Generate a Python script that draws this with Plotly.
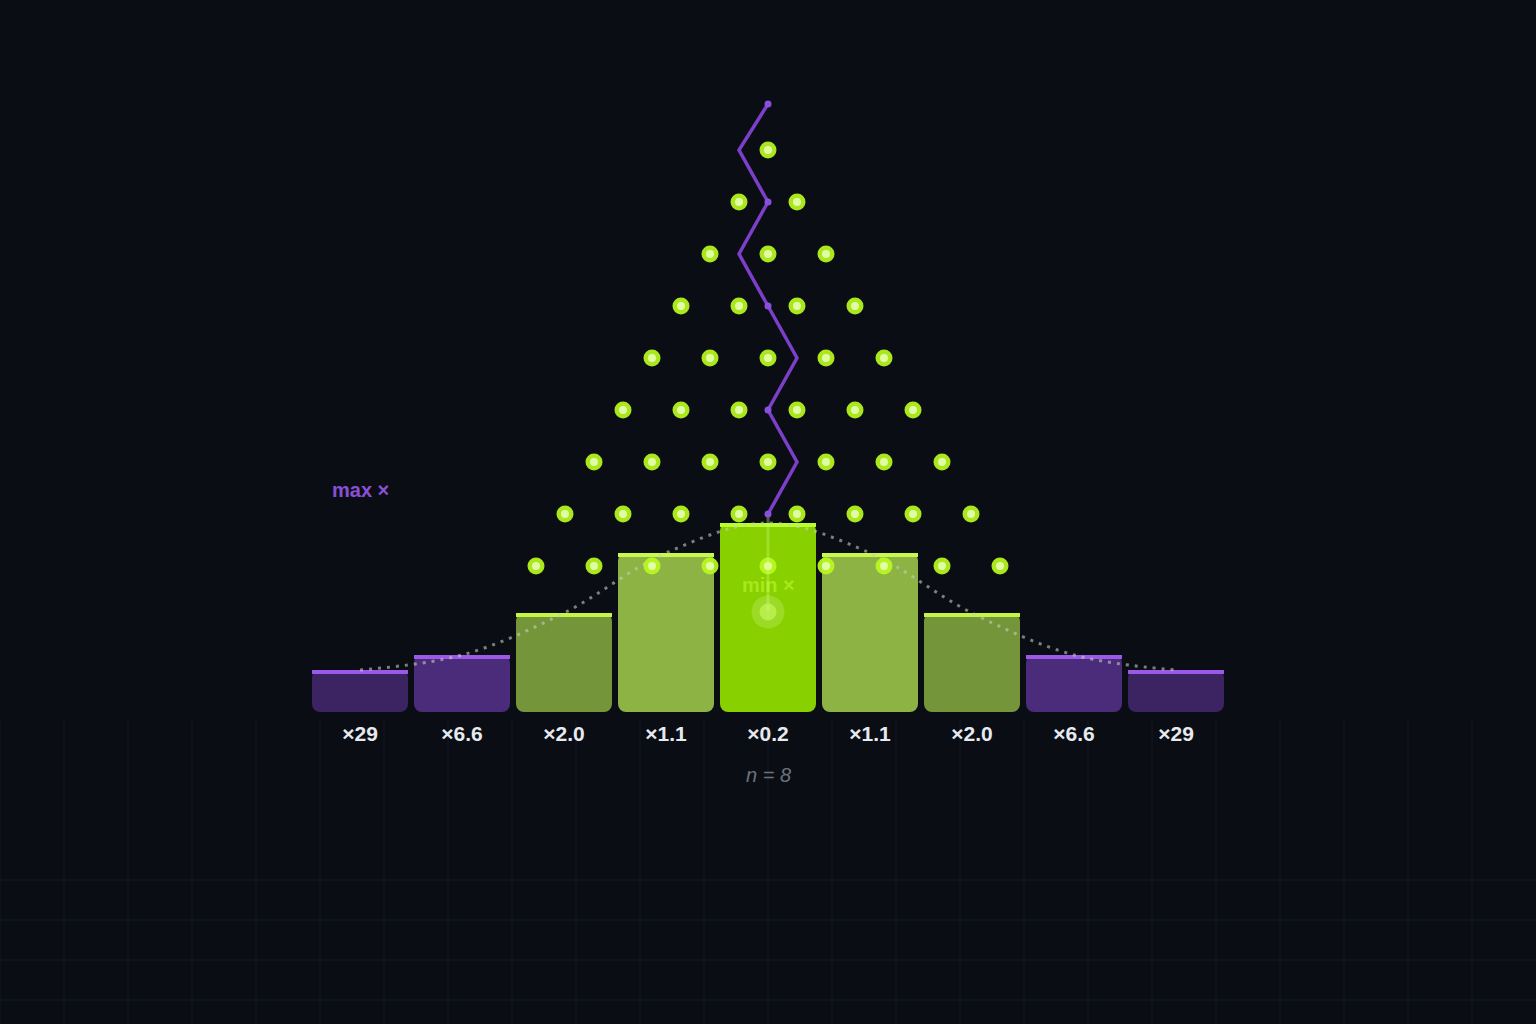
import plotly.graph_objects as go

# ---------------- data ----------------
bins = ["×29", "×6.6", "×2.0", "×1.1", "×0.2", "×1.1", "×2.0", "×6.6", "×29"]
bar_heights = [42, 57, 99, 159, 189, 159, 99, 57, 42]          # bar height above floor
bar_fill = ["#3c2462", "#4a2c7b", "#74953a", "#8db345", "#88d000",
            "#8db345", "#74953a", "#4a2c7b", "#3c2462"]
bar_cap = ["#9b59e8", "#9b59e8", "#c4f545", "#c8f74d", "#b9ff2e",
           "#c8f74d", "#c4f545", "#9b59e8", "#9b59e8"]
n_rows = 8                                   # n = 8
peg_row_y = [562, 510, 458, 406, 354, 302, 250, 198, 146]   # one entry per peg row
path_half_steps = [0, -1, 0, -1, 0, 1, 0, 1, 0]               # ball path, half-peg offsets
path_y = [608, 562, 510, 458, 406, 354, 302, 250, 198]
ball_y = 100
max_label_y = 222
min_label_y = 127
bin_label_y = -24
n_label_y = -63

# ---------------- layout constants ----------------
BG = "#0a0e14"
PEG = 58 / 102          # peg spacing in bin units
BAR_W = 96 / 102
X_HALF = 768 / 102
FONT = "Liberation Sans, Arial, sans-serif"

xs = [k - (len(bins) - 1) / 2 for k in range(len(bins))]

fig = go.Figure()

# bars (drawn downward from the top so the rounded corners sit at the bottom)
fig.add_trace(go.Bar(
    x=xs, y=[-h for h in bar_heights], base=bar_heights, width=BAR_W,
    marker=dict(color=bar_fill, line=dict(width=0), cornerradius=8),
    hoverinfo="skip", showlegend=False))
# bright cap line on each bar
fig.add_trace(go.Bar(
    x=xs, y=[-4] * len(bins), base=bar_heights, width=BAR_W,
    marker=dict(color=bar_cap, line=dict(width=0), cornerradius=0),
    hoverinfo="skip", showlegend=False))

# dotted distribution curve
fig.add_trace(go.Scatter(
    x=xs, y=bar_heights, mode="lines",
    line=dict(color="rgba(200,205,190,0.6)", width=3, dash="3px,6px", shape="spline"),
    hoverinfo="skip", showlegend=False))

# pegs
peg_x, peg_y = [], []
for r, yy in enumerate(peg_row_y):
    for j in range(r + 1):
        peg_x.append((j - r / 2) * PEG)
        peg_y.append(yy)
fig.add_trace(go.Scatter(
    x=peg_x, y=peg_y, mode="markers",
    marker=dict(size=17, color="rgba(184,250,30,0.92)", line=dict(width=0)),
    hoverinfo="skip", showlegend=False))
fig.add_trace(go.Scatter(
    x=peg_x, y=peg_y, mode="markers",
    marker=dict(size=8, color="rgba(236,255,190,0.85)", line=dict(width=0)),
    hoverinfo="skip", showlegend=False))

# ball drop line + ball
fig.add_trace(go.Scatter(
    x=[0, 0], y=[path_y[-1], ball_y], mode="lines",
    line=dict(color="rgba(205,255,120,0.35)", width=3),
    hoverinfo="skip", showlegend=False))
fig.add_trace(go.Scatter(
    x=[0], y=[ball_y], mode="markers",
    marker=dict(size=33, color="rgba(225,255,170,0.22)", line=dict(width=0)),
    hoverinfo="skip", showlegend=False))
fig.add_trace(go.Scatter(
    x=[0], y=[ball_y], mode="markers",
    marker=dict(size=17, color="rgba(205,255,110,0.55)", line=dict(width=0)),
    hoverinfo="skip", showlegend=False))

# ball path
path_x = [s * PEG / 2 for s in path_half_steps]
fig.add_trace(go.Scatter(
    x=path_x, y=path_y, mode="lines",
    line=dict(color="#7b3fc9", width=3.5),
    hoverinfo="skip", showlegend=False))
cx = [x for x, s in zip(path_x, path_half_steps) if s == 0]
cy = [y for y, s in zip(path_y, path_half_steps) if s == 0]
fig.add_trace(go.Scatter(
    x=cx, y=cy, mode="markers",
    marker=dict(size=7, color="#8a4fdc", line=dict(width=0)),
    hoverinfo="skip", showlegend=False))

# bin labels
fig.add_trace(go.Scatter(
    x=xs, y=[bin_label_y] * len(bins), mode="text", text=bins,
    textfont=dict(family=FONT, size=21, color="#e6eaf0", weight="bold"),
    hoverinfo="skip", showlegend=False))

fig.add_annotation(x=0, y=n_label_y, text=f"<i>n = {n_rows}</i>", showarrow=False,
                   font=dict(family=FONT, size=20, color="#6c727c"))
fig.add_annotation(x=xs[0], y=max_label_y, text="<b>max ×</b>", showarrow=False,
                   font=dict(family=FONT, size=20, color="#8a4fd4"))
fig.add_annotation(x=0, y=min_label_y, text="<b>min ×</b>", showarrow=False,
                   font=dict(family=FONT, size=20, color="rgba(196,255,50,0.55)"))

# faint background grid in the lower area
shapes = []
W, H = 1536, 1024
for px in range(0, W, 64):
    shapes.append(dict(type="line", xref="paper", yref="paper",
                       x0=px / W, x1=px / W, y0=0, y1=(H - 720) / H,
                       line=dict(color="#131922", width=1), layer="below"))
for py in (880, 920, 960, 1000):
    shapes.append(dict(type="line", xref="paper", yref="paper",
                       x0=0, x1=1, y0=(H - py) / H, y1=(H - py) / H,
                       line=dict(color="#141b24", width=1), layer="below"))

fig.update_layout(
    width=1536, height=1024,
    margin=dict(l=0, r=0, t=0, b=0),
    paper_bgcolor=BG, plot_bgcolor=BG,
    barmode="overlay",
    xaxis=dict(range=[-X_HALF, X_HALF], visible=False, fixedrange=True),
    yaxis=dict(range=[-312, 712], visible=False, fixedrange=True),
    shapes=shapes,
    showlegend=False,
)

fig.write_html("out.html")
